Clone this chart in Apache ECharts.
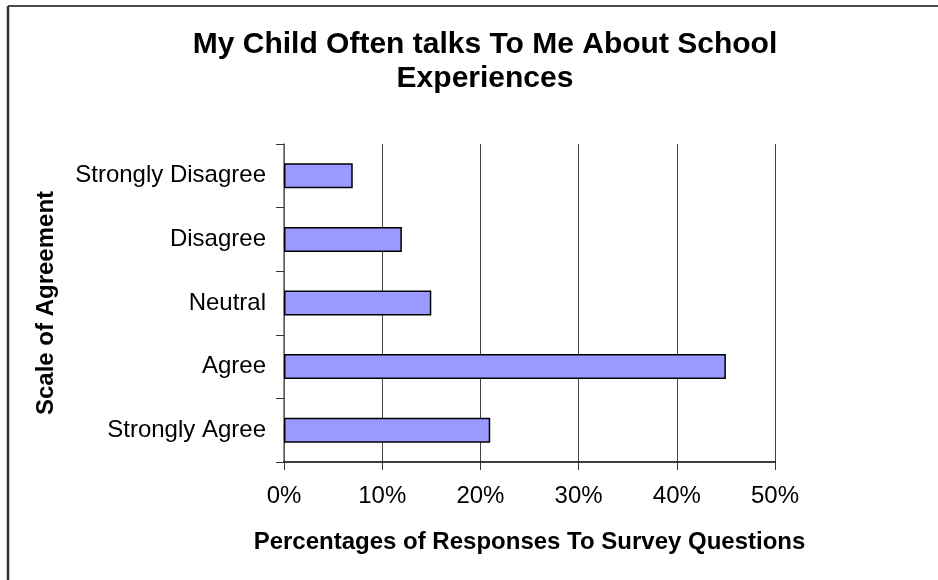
<!DOCTYPE html>
<html>
<head>
<meta charset="utf-8">
<script src="https://cdn.jsdelivr.net/npm/echarts@6/dist/echarts.min.js"></script>
<style>
    html, body { margin: 0; padding: 0; background: #fff; }
    #chart { width: 938px; height: 580px; }
</style>
</head>
<body>
<div id="chart"></div>
<script>
// bottom to top, as the category axis stacks them
const categories = ["Strongly Agree", "Agree", "Neutral", "Disagree", "Strongly Disagree"];
const percentages = [21, 45, 15, 12, 7];
const tickValues = [0, 10, 20, 30, 40, 50];

const titleText = "My Child Often talks To Me About School\nExperiences";
const font = "Liberation Sans, Arial, sans-serif";

const chart = echarts.init(document.getElementById("chart"));

chart.setOption({
    animation: false,
    backgroundColor: "#fff",
    graphic: [
        // outer frame (only top and left edges are visible)
        { type: "line", shape: { x1: 8, y1: 6, x2: 938, y2: 6 }, style: { stroke: "#111", lineWidth: 1.5 } },
        { type: "line", shape: { x1: 8, y1: 6, x2: 8, y2: 580 }, style: { stroke: "#333", lineWidth: 2.5 } },
        {
            type: "text",
            x: 485,
            y: 28,
            style: {
                text: titleText,
                font: "bold 30px " + font,
                fill: "#000",
                align: "center",
                verticalAlign: "top",
                lineHeight: 34
            }
        }
    ],
    grid: {
        left: 284,
        right: 163,
        top: 144,
        bottom: 118,
        containLabel: false
    },
    xAxis: {
        type: "value",
        min: tickValues[0],
        max: tickValues[tickValues.length - 1],
        interval: 10,
        name: "Percentages of Responses To Survey Questions",
        nameLocation: "middle",
        nameGap: 68,
        nameTextStyle: { fontFamily: font, fontWeight: "bold", fontSize: 24, color: "#000" },
        axisLine: { show: true, lineStyle: { color: "#000", width: 1.5 } },
        axisTick: { show: true, length: 8, lineStyle: { color: "#333" } },
        axisLabel: {
            margin: 22,
            fontFamily: font,
            fontSize: 24,
            color: "#000",
            formatter: "{value}%"
        },
        splitLine: { show: true, lineStyle: { color: "#444", width: 1 } }
    },
    yAxis: {
        type: "category",
        data: categories,
        name: "Scale of Agreement",
        nameLocation: "middle",
        nameGap: 226,
        nameTextStyle: { fontFamily: font, fontWeight: "bold", fontSize: 24, color: "#000" },
        axisLine: { show: true, lineStyle: { color: "#666", width: 1.5 } },
        axisTick: { show: true, length: 8, lineStyle: { color: "#333" } },
        axisLabel: { margin: 18, fontFamily: font, fontSize: 24, color: "#000" },
        splitLine: { show: false }
    },
    series: [{
        type: "bar",
        data: percentages,
        barWidth: 25,
        itemStyle: {
            color: "#9999ff",
            borderColor: "#000",
            borderWidth: 1.5
        }
    }]
});
</script>
</body>
</html>
